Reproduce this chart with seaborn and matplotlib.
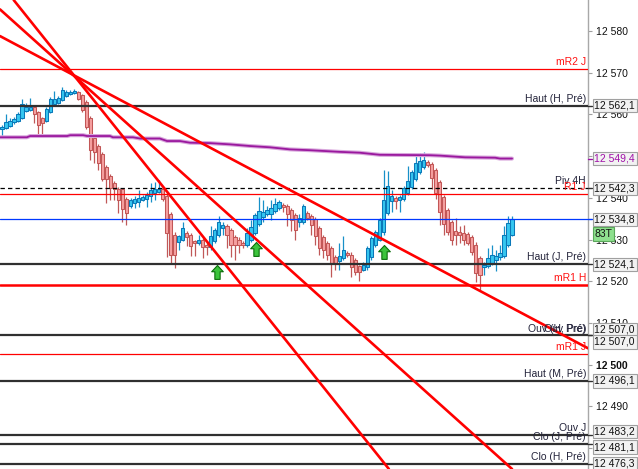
import numpy as np
import pandas as pd
import seaborn as sns
import matplotlib
matplotlib.use("Agg")
import matplotlib.pyplot as plt
from matplotlib.path import Path
from matplotlib.transforms import blended_transform_factory, offset_copy

# ---------------- data ----------------
opens = [12556.4, 12556.7, 12557.2, 12558.1, 12558.4, 12559.1, 12560.8, 12561.0, 12561.7, 12560.5,
         12559.1, 12558.4, 12560.5, 12562.4, 12562.7, 12563.4, 12564.4, 12564.8, 12565.1, 12565.3,
         12564.6, 12562.9, 12559.1, 12554.3, 12552.4, 12550.4, 12547.3, 12545.2, 12543.5, 12542.0,
         12542.0, 12539.6, 12538.0, 12538.7, 12538.9, 12539.4, 12539.6, 12540.4, 12541.1, 12541.3,
         12542.0, 12540.4, 12536.0, 12531.2, 12529.3, 12530.0, 12531.5, 12531.0, 12529.6, 12529.1,
         12529.8, 12528.6, 12528.1, 12529.6, 12531.0, 12532.7, 12533.2, 12532.2, 12530.5, 12530.0,
         12529.1, 12528.6, 12529.8, 12531.5, 12533.6, 12535.3, 12536.0, 12536.0, 12536.8, 12537.5,
         12538.2, 12538.0, 12537.0, 12535.8, 12534.1, 12534.1, 12536.3, 12535.6, 12534.8, 12532.7,
         12530.5, 12529.1, 12527.9, 12525.7, 12524.8, 12525.5, 12526.7, 12526.4, 12525.0, 12523.6,
         12522.8, 12523.3, 12525.7, 12528.6, 12530.0, 12531.7, 12536.3, 12539.2, 12539.9, 12539.4,
         12539.6, 12541.1, 12542.5, 12544.4, 12546.1, 12547.3, 12548.5, 12548.0, 12546.6, 12543.7,
         12540.1, 12537.0, 12534.1, 12532.0, 12531.7, 12531.5, 12531.2, 12530.5, 12528.8, 12525.5,
         12523.3, 12523.6, 12524.3, 12525.2, 12525.7, 12526.0, 12528.6, 12531.2]
closes = [12556.9, 12558.1, 12558.4, 12558.8, 12560.0, 12562.4, 12561.7, 12561.7, 12560.0, 12557.4,
          12557.9, 12561.2, 12563.6, 12563.6, 12563.9, 12565.8, 12565.3, 12565.3, 12565.6, 12563.6,
          12561.0, 12556.9, 12551.4, 12550.9, 12548.3, 12544.4, 12544.4, 12542.3, 12542.0, 12539.4,
          12537.2, 12536.3, 12539.4, 12539.6, 12539.9, 12540.1, 12540.6, 12541.8, 12542.0, 12542.0,
          12539.6, 12531.5, 12526.4, 12526.4, 12530.8, 12532.7, 12530.5, 12528.4, 12529.1, 12530.0,
          12528.1, 12528.1, 12530.8, 12532.2, 12534.1, 12533.4, 12531.0, 12528.8, 12528.8, 12528.6,
          12528.6, 12531.5, 12532.9, 12535.8, 12536.8, 12536.5, 12537.0, 12537.5, 12538.4, 12538.9,
          12537.7, 12536.0, 12534.6, 12532.2, 12535.1, 12538.0, 12535.1, 12533.4, 12530.8, 12527.9,
          12527.6, 12526.2, 12524.3, 12524.3, 12526.0, 12527.6, 12526.2, 12523.3, 12522.1, 12522.1,
          12524.0, 12527.9, 12530.3, 12531.7, 12534.6, 12539.4, 12542.8, 12540.4, 12539.2, 12540.1,
          12542.3, 12544.0, 12546.1, 12548.3, 12548.8, 12549.0, 12547.8, 12544.7, 12541.1, 12536.5,
          12533.6, 12531.7, 12529.8, 12531.2, 12531.0, 12530.0, 12529.1, 12526.9, 12521.9, 12521.4,
          12524.0, 12525.5, 12526.2, 12526.0, 12526.7, 12531.0, 12533.9, 12534.8]
highs = [12557.4, 12560.0, 12559.1, 12559.3, 12560.5, 12563.6, 12562.7, 12563.9, 12562.0, 12560.8,
         12559.3, 12561.7, 12564.1, 12565.6, 12564.4, 12566.5, 12565.8, 12565.8, 12566.0, 12565.6,
         12564.8, 12563.4, 12559.6, 12554.8, 12552.8, 12550.9, 12547.8, 12545.6, 12544.0, 12542.5,
         12542.3, 12540.1, 12539.9, 12540.4, 12541.8, 12540.6, 12541.3, 12543.5, 12543.7, 12544.2,
         12542.3, 12540.8, 12536.5, 12531.7, 12531.2, 12534.1, 12532.0, 12531.5, 12530.0, 12531.2,
         12530.3, 12529.1, 12533.2, 12532.7, 12535.6, 12534.1, 12533.6, 12532.7, 12531.0, 12530.5,
         12529.6, 12532.7, 12534.6, 12536.3, 12540.1, 12539.4, 12538.0, 12539.4, 12539.9, 12539.4,
         12538.7, 12538.4, 12537.5, 12536.3, 12536.0, 12538.4, 12536.8, 12536.0, 12535.3, 12533.2,
         12531.0, 12529.6, 12528.4, 12526.2, 12529.1, 12530.8, 12527.2, 12526.9, 12525.5, 12524.0,
         12524.5, 12528.4, 12530.8, 12532.2, 12535.1, 12546.6, 12546.4, 12541.8, 12540.4, 12540.6,
         12542.8, 12547.6, 12546.6, 12550.2, 12550.7, 12550.9, 12549.0, 12548.5, 12547.1, 12544.2,
         12540.6, 12537.5, 12534.6, 12535.1, 12533.2, 12533.4, 12531.7, 12531.0, 12529.3, 12526.0,
         12524.5, 12527.9, 12528.6, 12527.4, 12528.6, 12533.2, 12535.6, 12535.6]
lows = [12554.5, 12556.4, 12556.9, 12557.6, 12558.1, 12558.8, 12560.5, 12560.8, 12557.9, 12554.5,
        12554.5, 12558.1, 12560.3, 12562.2, 12562.4, 12563.2, 12564.1, 12564.6, 12564.8, 12563.4,
        12560.5, 12556.4, 12549.0, 12548.3, 12546.6, 12544.0, 12538.7, 12539.4, 12539.4, 12536.3,
        12534.1, 12533.4, 12537.5, 12537.5, 12537.7, 12539.2, 12537.7, 12538.9, 12539.4, 12541.1,
        12539.2, 12525.7, 12524.3, 12523.1, 12527.4, 12529.6, 12528.4, 12526.0, 12526.0, 12528.6,
        12525.5, 12526.2, 12527.6, 12529.1, 12530.5, 12531.0, 12527.9, 12525.7, 12525.0, 12526.7,
        12527.9, 12528.1, 12529.3, 12531.0, 12533.2, 12534.1, 12535.6, 12534.6, 12536.3, 12537.0,
        12536.5, 12533.2, 12532.0, 12530.0, 12532.9, 12533.6, 12534.6, 12531.0, 12528.6, 12526.2,
        12525.5, 12525.0, 12520.9, 12522.6, 12522.6, 12525.0, 12525.7, 12520.9, 12521.4, 12520.0,
        12522.4, 12522.8, 12525.2, 12528.1, 12529.6, 12531.2, 12535.8, 12536.5, 12537.2, 12536.5,
        12539.2, 12540.6, 12542.0, 12544.0, 12545.6, 12546.8, 12547.3, 12542.0, 12539.6, 12533.4,
        12531.0, 12531.2, 12528.6, 12528.6, 12529.1, 12528.6, 12528.6, 12526.4, 12519.7, 12517.8,
        12521.4, 12523.1, 12523.8, 12522.4, 12525.2, 12525.5, 12528.1, 12530.8]

# moving average (purple), sampled along the curve
ma_idx = [-0.5, 6.2, 7.0, 16.2, 17.0, 20.2, 21.2, 26.9, 27.6, 32.6, 34.4, 39.3, 41.1, 44.3, 46.8,
          51.8, 56.8, 61.8, 66.7, 71.7, 76.7, 84.2, 89.1, 94.1, 106.6, 109.1, 115.3, 122.8, 124.0, 127.0]
ma_val = [12554.5, 12554.5, 12554.8, 12554.8, 12555.0, 12555.0, 12554.8, 12554.8, 12554.5, 12554.5,
          12554.2, 12554.2, 12553.6, 12553.6, 12553.2, 12553.1, 12552.8, 12552.4, 12552.1, 12551.6,
          12551.4, 12551.0, 12550.8, 12550.3, 12550.2, 12550.1, 12549.7, 12549.6, 12549.4, 12549.4]

# red trend lines: two anchor points each (bar index, price)
trend_x0 = [18.2, 18.2, 18.2]
trend_y0 = [12569.2, 12569.0, 12569.0]
trend_x1 = [127.0, 124.0, 86.7]
trend_y1 = [12513.6, 12477.6, 12486.6]

# horizontal levels
levels = [12570.9, 12562.1, 12542.3, 12540.9, 12534.8, 12524.1, 12519.2,
          12507.0, 12502.5, 12496.1, 12483.2, 12481.1, 12476.3]
level_names = ["mR2 J", "Haut (H, Pré)", "Piv 4H", "R1 J", "", "Haut (J, Pré)", "mR1 H",
               "Ouv (H, Pré)", "mR1 J", "Haut (M, Pré)", "Ouv J", "Clo (J, Pré)", "Clo (H, Pré)"]
level_kind = ["red", "dark", "dash", "red", "blue", "dark", "redw",
              "dark", "red", "dark", "dark", "dark", "dark"]
extra_name = "Ouv Pré)"
extra_level = 12507.0

# boxed values on the price scale
box_values = [12562.1, 12549.4, 12542.3, 12534.8, 12524.1, 12507.0, 12507.0,
              12496.1, 12483.2, 12481.1, 12476.3]
box_kind = ["dark", "ma", "dark", "blue", "dark", "dark", "dark", "dark", "dark", "dark", "dark"]
bar_type_label = "83T"

# buy arrows (bar index, price of the tip)
arrow_idx = [53.5, 63.2, 95.1]
arrow_tip = [12524.0, 12529.3, 12528.6]

tick_vals = [12480, 12490, 12500, 12510, 12520, 12530, 12540, 12550, 12560, 12570, 12580]

# ---------------- styling / layout ----------------
sns.set_style("white")
plt.rcParams['font.family'] = ['Liberation Sans', 'DejaVu Sans']

W, H = 638, 469
PX = 4.016  # pixels per bar
fig = plt.figure(figsize=(W / 100, H / 100), dpi=100)
ax = fig.add_axes([0, 0, 588 / W, 1])
ax.set_facecolor("white")
ax.set_xlim(-2 / PX, 586 / PX)
ax.set_ylim(12475.0, 12587.4)

df = pd.DataFrame(dict(o=opens, h=highs, l=lows, c=closes))
df["i"] = np.arange(len(df))
up = (df.c >= df.o).values

wick_c = np.where(up, "#1890c8", "#c05858")
ax.vlines(df.i, df.l, df.h, colors=wick_c, lw=0.9, zorder=2)
body_h = (df.c - df.o).abs().clip(lower=0.3)
ax.bar(df.i, body_h, bottom=np.minimum(df.o, df.c), width=0.8,
       color=np.where(up, "#36c6f0", "#f5a0a0"),
       edgecolor=np.where(up, "#0a78b8", "#c25656"), lw=0.75, zorder=2.5)

# horizontal levels
styles = {
    "red": dict(color="#ff0000", lw=0.9, ls="-"),
    "redw": dict(color="#ff0000", lw=1.8, ls="-"),
    "dark": dict(color="#303030", lw=1.6, ls="-"),
    "dash": dict(color="#000000", lw=0.9, ls=(0, (3.5, 2.5))),
    "blue": dict(color="#0038ff", lw=0.9, ls="-"),
}
txt_col = {"red": "#ff1010", "redw": "#ff1010", "dark": "#23233a", "dash": "#23233a", "blue": "#23233a"}
bt = blended_transform_factory(ax.transAxes, ax.transData)
lab_tr = offset_copy(bt, fig=fig, x=0, y=1.3, units="points")
for lv, nm, kd in zip(levels, level_names, level_kind):
    ax.axhline(lv, zorder=3.2, **styles[kd])
    if nm:
        ax.text(586 / 588, lv, nm, transform=lab_tr, ha="right", va="bottom",
                fontsize=7.5, color=txt_col[kd], zorder=6)
ax.text(586 / 588, extra_level, extra_name, transform=lab_tr, ha="right", va="bottom",
        fontsize=7.5, color=txt_col["dark"], zorder=6)

# moving average with halo
sns.lineplot(x=ma_idx, y=ma_val, ax=ax, color="#d8a6dc", lw=2.9, sort=False, zorder=3.4)
sns.lineplot(x=ma_idx, y=ma_val, ax=ax, color="#9a189e", lw=1.3, sort=False, zorder=3.5)

# trend lines
for x0, y0, x1, y1 in zip(trend_x0, trend_y0, trend_x1, trend_y1):
    ax.axline((x0, y0), (x1, y1), color="#ff0000", lw=1.9, zorder=4)

# buy arrows
arrow_path = Path([(0, 0), (0.42, -0.45), (0.19, -0.45), (0.19, -1), (-0.19, -1),
                   (-0.19, -0.45), (-0.42, -0.45), (0, 0)], closed=True)
ax.scatter(arrow_idx, arrow_tip, marker=arrow_path, s=400, c="#3cc43c",
           edgecolors="#0b6e0b", linewidths=0.8, zorder=5)

# right price scale
ax.yaxis.tick_right()
ax.set_yticks(tick_vals)
ax.set_yticklabels([f"{v:,}".replace(",", " ") for v in tick_vals])
for t, v in zip(ax.get_yticklabels(), tick_vals):
    if v == 12500:
        t.set_fontweight("bold")
        t.set_fontsize(8.5)
ax.tick_params(axis="y", direction="out", length=3, width=0.8, color="#a0a0a0",
               labelsize=7.5, pad=3, labelcolor="#111111")
ax.set_xticks([])
for s in ["top", "left", "bottom"]:
    ax.spines[s].set_visible(False)
ax.spines["right"].set_color("#a8a8a8")
ax.spines["right"].set_linewidth(1.0)

box_off_px = [0, 0, 0, 0, 0, -6, 6.5, 0, -3, 3.5, 0]
box_txt = {"dark": "#111111", "ma": "#a010a8", "blue": "#111111"}
tick_col = {"dark": "#303030", "ma": "#a010a8", "blue": "#0038ff"}
for v, kd, off in zip(box_values, box_kind, box_off_px):
    tr = offset_copy(bt, fig=fig, x=0, y=-off * 0.72, units="points")
    ax.text(594.5 / 588, v, f"{v:,.1f}".replace(",", " ").replace(".", ","), transform=tr,
            ha="left", va="center", fontsize=7.5, color=box_txt[kd], zorder=10, clip_on=False,
            bbox=dict(boxstyle="square,pad=0.15", fc="#f2f2f2", ec="#a0a0a0", lw=0.8))
    ax.plot([1.0, 592 / 588], [v, v], transform=bt, color=tick_col[kd], lw=1,
            clip_on=False, zorder=9)
tr83 = offset_copy(bt, fig=fig, x=0, y=-14.5 * 0.72, units="points")
ax.text(594.5 / 588, levels[4], bar_type_label, transform=tr83, ha="left", va="center",
        fontsize=7.5, color="#111111", zorder=11, clip_on=False,
        bbox=dict(boxstyle="square,pad=0.15", fc="#8ee08e", ec="#5aa85a", lw=0.8))

fig.savefig("out.png", dpi=100)
